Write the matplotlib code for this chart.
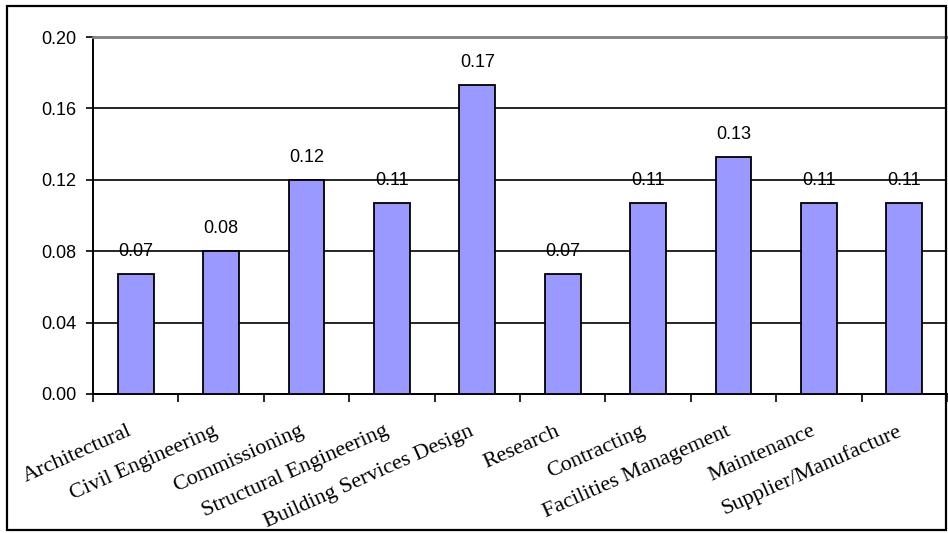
import matplotlib
matplotlib.use('Agg')
import matplotlib.pyplot as plt
import matplotlib.transforms as mtransforms
from matplotlib.patches import Rectangle
import numpy as np

categories = ['Architectural', 'Civil Engineering', 'Commissioning',
              'Structural Engineering', 'Building Services Design', 'Research',
              'Contracting', 'Facilities Management', 'Maintenance',
              'Supplier/Manufacture']
values = [0.067, 0.080, 0.120, 0.107, 0.173, 0.067, 0.107, 0.133, 0.107, 0.107]
value_labels = ['0.07', '0.08', '0.12', '0.11', '0.17', '0.07', '0.11', '0.13', '0.11', '0.11']
y_ticks = [0.00, 0.04, 0.08, 0.12, 0.16, 0.20]

plt.rcParams['font.family'] = ['Liberation Sans', 'DejaVu Sans']

fig = plt.figure(figsize=(9.48, 5.33), dpi=100)
ax = fig.add_axes([93 / 948, 1 - 394 / 533, (947 - 93) / 948, (394 - 37) / 533])

x = np.arange(len(categories))
ax.bar(x, values, width=0.42, color='#9999FF', edgecolor='black', linewidth=1.3, zorder=3)

for xi, v, lab in zip(x, values, value_labels):
    ax.annotate(lab, (xi, v), xytext=(0, 13), textcoords='offset points',
                ha='center', va='baseline', fontsize=13, zorder=4)

ax.set_xlim(-0.5, len(categories) - 0.5)
ax.set_ylim(0, 0.20)
ax.set_yticks(y_ticks)
ax.set_yticklabels(['%.2f' % t for t in y_ticks], fontsize=13)
ax.yaxis.grid(True, color='black', linewidth=1.2, zorder=0)
ax.tick_params(axis='y', length=5, width=1.2, direction='out', pad=7)

ax.set_xticks(x)
ax.set_xticklabels(categories, rotation=24, ha='right', va='top',
                   rotation_mode='anchor', fontsize=16, family='Liberation Serif')
ax.tick_params(axis='x', length=0, pad=20)
ax.set_xticks(np.arange(-0.5, len(categories)), minor=True)
ax.tick_params(axis='x', which='minor', length=6, width=1.2, direction='out')
shift = mtransforms.ScaledTranslation(-8 / 100, 0, fig.dpi_scale_trans)
for lab in ax.get_xticklabels():
    lab.set_transform(lab.get_transform() + shift)

for s in ['left', 'bottom']:
    ax.spines[s].set_linewidth(1.4)
    ax.spines[s].set_color('black')
ax.spines['top'].set_color('#808080')
ax.spines['top'].set_linewidth(2)
ax.spines['right'].set_visible(False)

fig.patches.append(Rectangle((7 / 948, 1 - 530 / 533), (946 - 7) / 948, (530 - 6) / 533,
                             transform=fig.transFigure, fill=False,
                             edgecolor='black', linewidth=1.6))

fig.savefig('out.png', dpi=100)
